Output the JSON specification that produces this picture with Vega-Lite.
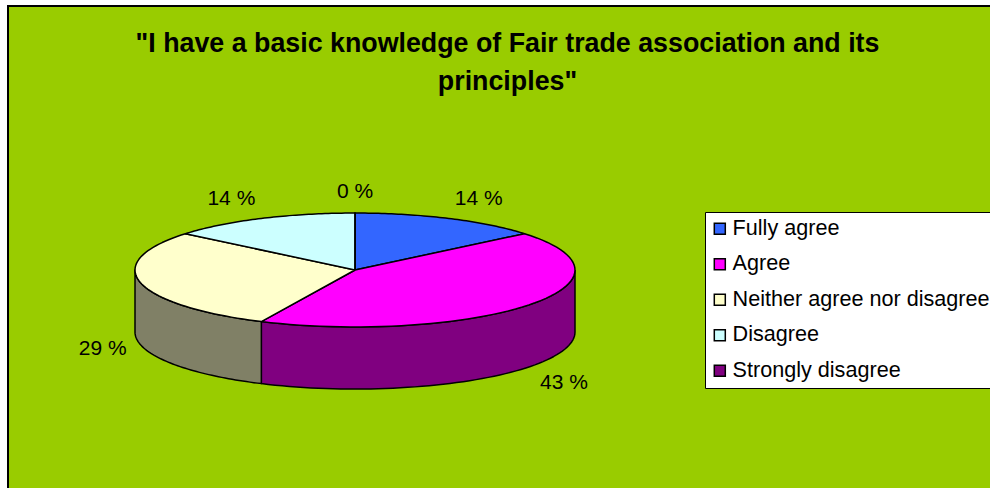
{
  "$schema": "https://vega.github.io/schema/vega-lite/v6.json",
  "autosize": "none",
  "padding": {"left": 8, "top": 6, "right": 0, "bottom": 0},
  "width": 985,
  "height": 485,
  "background": "white",
  "view": {"fill": "#99CC00", "stroke": "black", "strokeWidth": 2},
  "title": {
    "text": ["\"I have a basic knowledge of Fair trade association and its", "principles\""],
    "orient": "top",
    "anchor": "middle",
    "frame": "group",
    "offset": -90,
    "dx": 7,
    "font": "Liberation Sans",
    "fontSize": 26.8,
    "fontWeight": "bold",
    "lineHeight": 38,
    "color": "black",
    "limit": 900
  },
  "config": {"font": "Liberation Sans"},
  "data": {
    "values": [
      {"answer": "Fully agree", "share": 14},
      {"answer": "Agree", "share": 43},
      {"answer": "Neither agree nor disagree", "share": 29},
      {"answer": "Disagree", "share": 14},
      {"answer": "Strongly disagree", "share": 0}
    ]
  },
  "transform": [
    {"window": [{"op": "sum", "field": "share", "as": "end"}], "frame": [null, 0]},
    {"calculate": "datum.end - datum.share", "as": "start"}
  ],
  "layer": [
    {
      "description": "Rim of the disc: only the part of each slice facing the viewer (25% to 75% of the way round).",
      "transform": [
        {"calculate": "max(datum.start, 25)", "as": "lo"},
        {"calculate": "min(datum.end, 75)", "as": "hi"},
        {"filter": "datum.hi > datum.lo"},
        {"calculate": "sequence(0, 121)", "as": "k"},
        {"flatten": ["k"]},
        {"calculate": "datum.k < 60 ? datum.lo + (datum.hi - datum.lo) * datum.k / 59 : datum.k < 120 ? datum.hi - (datum.hi - datum.lo) * (datum.k - 60) / 59 : datum.lo", "as": "pos"},
        {"calculate": "sin(2 * PI * datum.pos / 100)", "as": "px"},
        {"calculate": "0.259 * cos(2 * PI * datum.pos / 100) - (datum.k >= 60 && datum.k < 120 ? 0.282 : 0)", "as": "py"}
      ],
      "mark": {"type": "line", "filled": true, "stroke": "black", "strokeWidth": 1.5, "strokeJoin": "round", "interpolate": "linear"},
      "encoding": {
        "x": {"field": "px", "type": "quantitative", "scale": {"domain": [-1.5773, 2.9], "nice": false, "zero": false}, "axis": null},
        "y": {"field": "py", "type": "quantitative", "scale": {"domain": [-1.0045, 1.2], "nice": false, "zero": false}, "axis": null},
        "order": {"field": "k", "type": "quantitative"},
        "color": {
          "field": "answer",
          "type": "nominal",
          "scale": {"domain": ["Agree", "Neither agree nor disagree"], "range": ["#800080", "#808066"]},
          "legend": null
        }
      }
    },
    {
      "description": "Top face of the disc: one wedge per slice, clockwise from twelve o'clock.",
      "transform": [
        {"calculate": "sequence(0, 61)", "as": "k"},
        {"flatten": ["k"]},
        {"calculate": "datum.start + (datum.end - datum.start) * (datum.k - 1) / 58", "as": "pos"},
        {"calculate": "datum.k == 0 || datum.k == 60 ? 0 : sin(2 * PI * datum.pos / 100)", "as": "px"},
        {"calculate": "datum.k == 0 || datum.k == 60 ? 0 : 0.259 * cos(2 * PI * datum.pos / 100)", "as": "py"}
      ],
      "mark": {"type": "line", "filled": true, "stroke": "black", "strokeWidth": 1.5, "strokeJoin": "round", "interpolate": "linear"},
      "encoding": {
        "x": {"field": "px", "type": "quantitative", "scale": {"domain": [-1.5773, 2.9], "nice": false, "zero": false}, "axis": null},
        "y": {"field": "py", "type": "quantitative", "scale": {"domain": [-1.0045, 1.2], "nice": false, "zero": false}, "axis": null},
        "order": {"field": "k", "type": "quantitative"},
        "color": {
          "field": "answer",
          "type": "nominal",
          "scale": {
            "domain": ["Fully agree", "Agree", "Neither agree nor disagree", "Disagree", "Strongly disagree"],
            "range": ["#3366FF", "#FF00FF", "#FFFFCC", "#CCFFFF", "#800080"]
          },
          "legend": {
            "title": null,
            "orient": "none",
            "legendX": 697,
            "legendY": 206,
            "fillColor": "white",
            "strokeColor": "black",
            "padding": 6,
            "symbolType": "square",
            "symbolSize": 121,
            "symbolOffset": -2,
            "symbolStrokeColor": "black",
            "symbolStrokeWidth": 1.5,
            "labelFont": "Liberation Sans",
            "labelFontSize": 21.6,
            "labelColor": "black",
            "labelLimit": 400,
            "labelOffset": 2,
            "rowPadding": 12.5
          }
        }
      }
    },
    {
      "description": "Percentage labels placed just outside the disc at each slice's mid-angle.",
      "transform": [
        {"calculate": "2 * PI * (datum.start + datum.end) / 200", "as": "mid"},
        {"calculate": "(24 * clamp(6 * sin(datum.mid), -1, 1) + 234 * sin(datum.mid)) / 220", "as": "lx"},
        {"calculate": "(cos(datum.mid) > 0 ? 78 * cos(datum.mid) : 86 * cos(datum.mid) - 60) / 220", "as": "ly"},
        {"calculate": "datum.share + ' %'", "as": "caption"}
      ],
      "mark": {"type": "text", "font": "Liberation Sans", "fontSize": 21, "color": "black", "align": "center", "baseline": "middle"},
      "encoding": {
        "x": {"field": "lx", "type": "quantitative", "scale": {"domain": [-1.5773, 2.9], "nice": false, "zero": false}, "axis": null},
        "y": {"field": "ly", "type": "quantitative", "scale": {"domain": [-1.0045, 1.2], "nice": false, "zero": false}, "axis": null},
        "text": {"field": "caption", "type": "nominal"}
      }
    }
  ],
  "resolve": {"scale": {"color": "independent"}, "legend": {"color": "independent"}}
}
